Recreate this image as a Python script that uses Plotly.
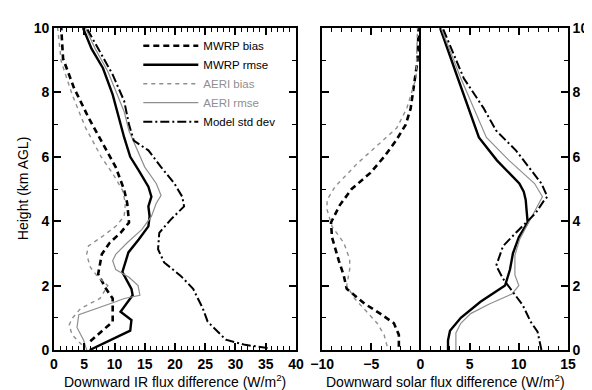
import plotly.graph_objects as go

# ---------------- Data ----------------
# Left panel: Downward IR flux difference (W/m^2) vs height (km AGL)
IR_MWRP_BIAS_H = [0.27, 0.62, 0.88, 1.6, 1.9, 2.36, 2.97, 3.33, 3.64, 3.96, 4.56, 4.97, 5.68, 6.4, 7.22, 8.14, 9.05, 10.0]
IR_MWRP_BIAS_X = [6.0, 8.1, 9.7, 9.7, 8.6, 7.3, 7.9, 9.2, 11.0, 12.4, 12.1, 11.6, 10.2, 8.1, 5.7, 3.3, 1.5, 1.2]

IR_MWRP_RMSE_H = [0.0, 0.3, 0.6, 0.93, 1.19, 1.7, 1.9, 2.42, 3.03, 3.43, 3.84, 4.15, 4.46, 4.76, 5.07, 5.58, 6.0, 6.6, 7.4, 7.93, 8.75, 9.36, 10.0]
IR_MWRP_RMSE_X = [5.9, 9.2, 12.6, 12.8, 11.0, 13.0, 12.8, 11.3, 12.3, 14.0, 15.6, 15.8, 15.6, 16.1, 15.6, 14.0, 12.6, 11.6, 10.5, 9.7, 8.1, 6.2, 4.8]

IR_AERI_BIAS_H = [0.16, 0.47, 0.77, 0.98, 1.29, 1.6, 2.0, 2.26, 2.57, 2.97, 3.23, 3.54, 3.84, 4.15, 4.56, 4.97, 5.48, 6.0, 6.91, 7.93, 8.96, 10.0]
IR_AERI_BIAS_X = [4.6, 3.0, 2.5, 3.0, 4.4, 7.6, 8.9, 7.3, 6.0, 5.4, 5.7, 8.1, 10.2, 11.6, 11.8, 11.3, 9.7, 7.8, 5.2, 3.0, 1.2, 0.6]

IR_AERI_RMSE_H = [0.0, 0.3, 0.7, 1.1, 1.5, 1.6, 1.7, 2.0, 2.26, 2.5, 2.77, 2.97, 3.33, 3.74, 4.15, 4.56, 4.8, 5.17, 5.68, 6.1, 6.8, 7.4, 7.93, 8.65, 9.36, 10.0]
IR_AERI_RMSE_X = [5.4, 4.9, 3.8, 4.1, 10.2, 11.6, 14.2, 13.9, 12.4, 10.2, 9.7, 10.2, 12.1, 14.5, 16.1, 16.9, 17.7, 16.9, 15.0, 14.0, 12.4, 11.6, 10.5, 8.9, 6.8, 5.2]

IR_MODEL_H = [0.06, 0.16, 0.32, 0.62, 0.88, 1.29, 1.9, 2.31, 2.72, 3.13, 3.64, 4.05, 4.46, 4.76, 5.17, 5.68, 6.2, 6.5, 7.0, 7.73, 8.55, 9.36, 10.0]
IR_MODEL_X = [35.3, 31.6, 28.4, 26.8, 25.4, 24.6, 23.0, 20.9, 18.2, 17.2, 17.4, 19.3, 21.5, 21.2, 19.9, 17.7, 15.6, 13.2, 12.4, 11.6, 9.7, 7.3, 5.4]

# Right panel: Downward solar flux difference (W/m^2) vs height (km AGL)
SW_MWRP_BIAS_H = [0.1, 0.47, 0.83, 1.13, 1.44, 1.9, 2.31, 2.77, 3.5, 3.96, 4.5, 5.0, 5.5, 6.0, 6.5, 7.0, 7.5, 8.5, 9.0, 10.0]
SW_MWRP_BIAS_X = [-2.2, -2.2, -2.7, -4.1, -5.7, -7.5, -7.8, -8.3, -9.0, -9.1, -8.2, -7.0, -5.1, -3.7, -2.5, -1.5, -1.0, -0.5, -0.3, -0.2]

SW_MWRP_RMSE_H = [0.0, 0.3, 0.6, 1.0, 1.5, 2.0, 2.5, 3.0, 3.5, 3.96, 4.3, 4.66, 4.92, 5.17, 5.89, 6.6, 8.44, 10.0]
SW_MWRP_RMSE_X = [2.8, 2.8, 3.0, 4.1, 6.1, 8.6, 9.1, 9.4, 10.0, 10.9, 10.8, 10.7, 10.5, 10.05, 7.77, 5.94, 3.8, 2.0]

SW_AERI_BIAS_H = [0.12, 0.47, 0.83, 1.6, 2.0, 2.5, 2.82, 3.33, 3.84, 4.36, 4.66, 5.07, 5.8, 6.5, 6.9, 7.5, 8.45, 10.0]
SW_AERI_BIAS_X = [-3.4, -3.7, -4.4, -6.7, -7.5, -7.2, -7.2, -7.8, -9.0, -9.5, -9.5, -8.7, -6.4, -3.9, -2.4, -1.4, -0.45, -0.3]

SW_AERI_RMSE_H = [0.0, 0.53, 0.83, 1.13, 1.43, 1.74, 2.0, 2.33, 2.94, 3.45, 3.96, 4.36, 4.66, 4.76, 5.17, 5.89, 6.6, 8.44, 10.0]
SW_AERI_RMSE_X = [3.6, 3.6, 4.1, 5.1, 7.0, 9.3, 10.0, 9.6, 9.6, 10.1, 11.0, 11.7, 12.3, 12.4, 11.6, 9.0, 6.7, 4.1, 2.1]

SW_MODEL_H = [0.0, 0.16, 0.57, 0.88, 1.39, 1.8, 2.21, 2.62, 3.23, 3.64, 3.96, 4.25, 4.66, 4.76, 5.17, 5.68, 6.2, 6.81, 7.52, 8.44, 9.97]
SW_MODEL_X = [12.3, 12.2, 11.9, 11.2, 10.4, 9.4, 8.4, 7.7, 8.4, 9.7, 10.8, 11.7, 12.6, 12.9, 12.3, 11.0, 9.7, 7.7, 6.4, 4.4, 2.3]

SERIES_NAMES = ["MWRP bias", "MWRP rmse", "AERI bias", "AERI rmse", "Model std dev"]
TITLE_IR = "Downward IR flux difference (W/m<sup>2</sup>)"
TITLE_SW = "Downward solar flux difference (W/m<sup>2</sup>)"
TITLE_H = "Height (km AGL)"

# ---------------- Styles ----------------
GRAY = "#8f8f8f"
STYLES = [
    dict(color="black", width=2.6, dash="6px,4px"),
    dict(color="black", width=2.4, dash="solid"),
    dict(color=GRAY, width=1.4, dash="4px,4px"),
    dict(color=GRAY, width=1.2, dash="solid"),
    dict(color="black", width=2.0, dash="9px,3px,2px,3px"),
]
LEGEND_LABELS = [
    SERIES_NAMES[0],
    SERIES_NAMES[1],
    "<span style='color:%s'>%s</span>" % (GRAY, SERIES_NAMES[2]),
    "<span style='color:%s'>%s</span>" % (GRAY, SERIES_NAMES[3]),
    SERIES_NAMES[4],
]

left = [(IR_MWRP_BIAS_X, IR_MWRP_BIAS_H), (IR_MWRP_RMSE_X, IR_MWRP_RMSE_H),
        (IR_AERI_BIAS_X, IR_AERI_BIAS_H), (IR_AERI_RMSE_X, IR_AERI_RMSE_H),
        (IR_MODEL_X, IR_MODEL_H)]
right = [(SW_MWRP_BIAS_X, SW_MWRP_BIAS_H), (SW_MWRP_RMSE_X, SW_MWRP_RMSE_H),
         (SW_AERI_BIAS_X, SW_AERI_BIAS_H), (SW_AERI_RMSE_X, SW_AERI_RMSE_H),
         (SW_MODEL_X, SW_MODEL_H)]

fig = go.Figure()
for i, (x, h) in enumerate(left):
    fig.add_trace(go.Scatter(x=x, y=h, mode="lines", name=LEGEND_LABELS[i],
                             line=STYLES[i], xaxis="x", yaxis="y", showlegend=True))
for i, (x, h) in enumerate(right):
    fig.add_trace(go.Scatter(x=x, y=h, mode="lines", name=SERIES_NAMES[i],
                             line=STYLES[i], xaxis="x2", yaxis="y2", showlegend=False))

FONT = "Liberation Sans, Arial, Helvetica, sans-serif"


def axis(**kw):
    d = dict(
        showline=True, linecolor="black", linewidth=1.6, mirror="allticks",
        ticks="inside", ticklen=7, tickwidth=1.5, tickcolor="black",
        showgrid=False, zeroline=False,
        tickfont=dict(family=FONT, size=14, color="black", weight="bold"),
        minor=dict(dtick=1, ticks="inside", ticklen=4, tickwidth=1.1, tickcolor="black"),
    )
    d.update(kw)
    return d


X_DOM = [0, 0.4708]
X2_DOM = [0.5217, 1]

fig.update_layout(
    width=592, height=390,
    margin=dict(l=46, r=15, t=16, b=48),
    paper_bgcolor="white", plot_bgcolor="white",
    font=dict(family=FONT, size=12, color="black"),
    xaxis=axis(domain=X_DOM, range=[0, 40], tick0=0, dtick=5, anchor="y"),
    yaxis=axis(domain=[0, 1], range=[0, 10], tick0=0, dtick=2, anchor="x"),
    xaxis2=axis(domain=X2_DOM, range=[-10, 15], tick0=0, dtick=5, anchor="y2",
                zeroline=True, zerolinecolor="black", zerolinewidth=1.6),
    yaxis2=axis(domain=[0, 1], range=[0, 10], tick0=0, dtick=2, anchor="x2", side="right"),
    legend=dict(x=0.164, y=0.99, xanchor="left", yanchor="top",
                bgcolor="rgba(0,0,0,0)", font=dict(size=11.5, family=FONT),
                itemwidth=55),
    annotations=[
        dict(text=TITLE_IR, xref="paper", yref="paper", x=sum(X_DOM) / 2, y=-0.095,
             xanchor="center", yanchor="middle", showarrow=False, font=dict(size=14)),
        dict(text=TITLE_SW, xref="paper", yref="paper", x=sum(X2_DOM) / 2, y=-0.095,
             xanchor="center", yanchor="middle", showarrow=False, font=dict(size=14)),
        dict(text=TITLE_H, xref="paper", yref="paper", x=-0.06, y=0.5, textangle=-90,
             xanchor="center", yanchor="middle", showarrow=False, font=dict(size=14)),
    ],
)

fig.write_html("out.html")
